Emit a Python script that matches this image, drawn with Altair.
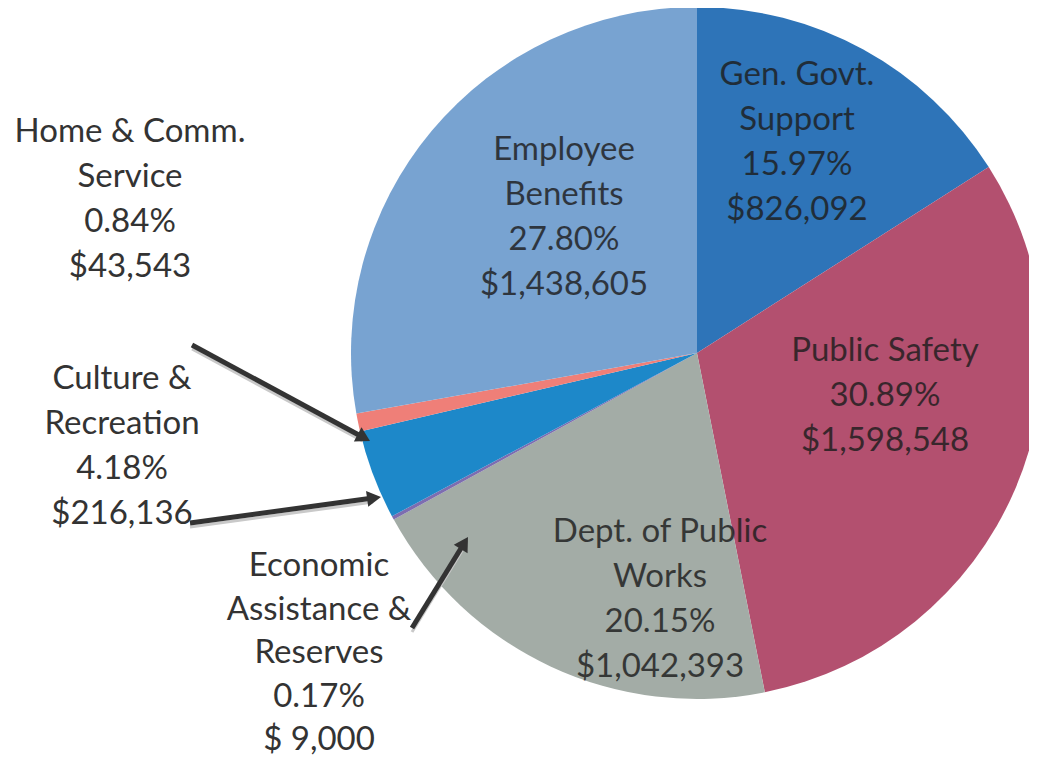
import altair as alt
import pandas as pd
import math

# ---------------- data ----------------
categories = ["Gen. Govt. Support", "Public Safety", "Dept. of Public Works",
              "Economic Assistance & Reserves", "Culture & Recreation",
              "Home & Comm. Service", "Employee Benefits"]
name_lines = ["Gen. Govt.\nSupport", "Public Safety", "Dept. of Public\nWorks",
              "Economic\nAssistance &\nReserves", "Culture &\nRecreation",
              "Home & Comm.\nService", "Employee\nBenefits"]
percents = ["15.97%", "30.89%", "20.15%", "0.17%", "4.18%", "0.84%", "27.80%"]
amounts = [826092, 1598548, 1042393, 9000, 216136, 43543, 1438605]
amount_labels = ["$826,092", "$1,598,548", "$1,042,393", "$ 9,000",
                 "$216,136", "$43,543", "$1,438,605"]
colors = ["#2e74b8", "#b3506f", "#a3aca6", "#7d6db0", "#1d88c9", "#ef7f78", "#78a3d1"]
inside = [True, True, True, False, False, False, True]

# ---------------- layout (page pixels) ----------------
W, H = 1021, 753
OFF = 8  # page margin
pie_cx, pie_cy, pie_r = 697 - OFF, 353 - OFF, 346
# label anchor: centre x, first-line baseline y, line height
label_pos = {
    "Gen. Govt. Support": (797, 85, 45),
    "Public Safety": (885, 361, 45),
    "Dept. of Public Works": (660, 542, 45),
    "Economic Assistance & Reserves": (319, 576, 43.5),
    "Culture & Recreation": (122, 389, 45),
    "Home & Comm. Service": (130, 142, 45),
    "Employee Benefits": (564, 160, 45),
}
arrows = [((192, 345), (370, 441)), ((190, 523), (381, 497)), ((412, 628), (468, 537))]

df = pd.DataFrame({
    "category": categories,
    "amount": amounts,
    "order": list(range(len(categories))),
    "label": [f"{n}\n{p}\n{a}" for n, p, a in zip(name_lines, percents, amount_labels)],
    "inside": inside,
})
df["lx"] = [label_pos[c][0] - OFF for c in categories]
df["ly"] = [label_pos[c][1] - OFF for c in categories]

arr_rows = []
for (x0, y0), (x1, y1) in arrows:
    dx, dy = x1 - x0, y1 - y0
    L = math.hypot(dx, dy)
    ux, uy = dx / L, dy / L
    arr_rows.append({
        "x": x0 - OFF, "y": y0 - OFF,
        "x2": x1 - OFF - ux * 8, "y2": y1 - OFF - uy * 8,
        "hx": x1 - OFF - ux * 7, "hy": y1 - OFF - uy * 7,
        "ang": (math.degrees(math.atan2(dy, dx)) + 360) % 360,
    })
adf = pd.DataFrame(arr_rows)

xs = alt.Scale(domain=[0, W])
ys = alt.Scale(domain=[0, H], reverse=True)

pie = alt.Chart(df).mark_arc(radius=pie_r).encode(
    theta=alt.Theta("amount:Q", stack=True),
    order=alt.Order("order:Q", sort="ascending"),
    color=alt.Color("category:N", scale=alt.Scale(domain=categories, range=colors), legend=None),
    x=alt.value(pie_cx),
    y=alt.value(pie_cy),
)


def text_layer(cat, color, opacity):
    lh = label_pos[cat][2]
    return alt.Chart(df).transform_filter(
        alt.datum.category == cat
    ).mark_text(
        font="Lato", fontSize=33, lineBreak="\n", lineHeight=lh,
        align="center", baseline="alphabetic", color=color, opacity=opacity,
    ).encode(
        x=alt.X("lx:Q", scale=xs, axis=None),
        y=alt.Y("ly:Q", scale=ys, axis=None),
        text="label:N",
    )


text_layers = [
    text_layer(c, "#1e1e1e" if ins else "#333333", 0.82 if ins else 1.0)
    for c, ins in zip(categories, inside)
]

shadow = alt.Chart(adf).mark_rule(color="#c9c9c9", strokeWidth=3).encode(
    x=alt.X("x:Q", scale=xs, axis=None),
    y=alt.Y("y_s:Q", scale=ys, axis=None),
    x2="x2:Q",
    y2="y2_s:Q",
).transform_calculate(y_s="datum.y + 4", y2_s="datum.y2 + 4")

lines = alt.Chart(adf).mark_rule(color="#333333", strokeWidth=5).encode(
    x=alt.X("x:Q", scale=xs, axis=None),
    y=alt.Y("y:Q", scale=ys, axis=None),
    x2="x2:Q",
    y2="y2:Q",
)

heads = alt.Chart(adf).mark_point(shape="triangle-right", filled=True, size=260,
                                   color="#333333", opacity=1).encode(
    x=alt.X("hx:Q", scale=xs, axis=None),
    y=alt.Y("hy:Q", scale=ys, axis=None),
    angle=alt.Angle("ang:Q", scale=None),
)

chart = alt.layer(pie, shadow, lines, heads, *text_layers).properties(
    width=W, height=H, padding=0,
    autosize=alt.AutoSizeParams(type="none"),
    background="white",
).configure_view(stroke=None)

chart.save("out.html", embed_options={"renderer": "svg", "actions": False})
